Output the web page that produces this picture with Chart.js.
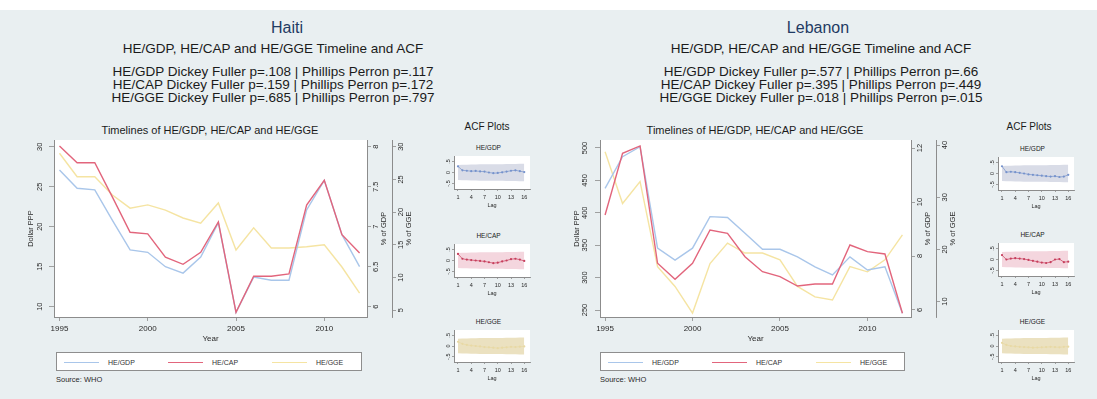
<!DOCTYPE html>
<html>
<head>
<meta charset="utf-8">
<title>Health expenditure timelines and ACF: Haiti and Lebanon</title>
<script src="https://cdn.jsdelivr.net/npm/chart.js@4.4.1/dist/chart.umd.min.js"></script>
<style>
  html, body { margin:0; padding:0; width:1097px; height:399px; overflow:hidden; background:#ffffff;
    font-family:"Liberation Sans", Arial, sans-serif; }
  #panel { position:absolute; left:0; top:10px; width:1097px; height:389px; background:#e9eff1; }
  .txt { position:absolute; white-space:nowrap; transform:translate(-50%,-50%); color:#1b1b1b; line-height:1; }
  .ltxt { position:absolute; white-space:nowrap; transform:translateY(-50%); color:#2a2a2a; line-height:1; }
  canvas { position:absolute; }
  .legend { position:absolute; background:#ffffff; border:1px solid #8e8e8e; box-sizing:border-box; }
  .key { position:absolute; height:0; top:50%; }
  .klab { position:absolute; top:50%; transform:translateY(-50%); font-size:7px; color:#333; white-space:nowrap; line-height:1; }
</style>
</head>
<body>
<div id="panel"></div>
<script>
// ---- data -------------------------------------------------------------
const years = [1995, 1996, 1997, 1998, 1999, 2000, 2001, 2002, 2003, 2004,
               2005, 2006, 2007, 2008, 2009, 2010, 2011, 2012];

// Haiti: HE/GDP in % of GDP, HE/CAP in Dollar PPP, HE/GGE in % of GGE
const haitiHeGdp = [7.71, 7.48, 7.46, 7.08, 6.71, 6.68, 6.50, 6.42, 6.62, 7.05,
                    5.93, 6.37, 6.33, 6.33, 7.21, 7.58, 6.90, 6.50];
const haitiHeCap = [30.1, 28.0, 28.0, 23.7, 19.3, 19.1, 16.2, 15.3, 16.8, 20.6,
                    9.3, 13.8, 13.8, 14.1, 22.7, 25.8, 19.0, 16.7];
const haitiHeGge = [29.0, 25.4, 25.4, 22.6, 20.6, 21.1, 20.3, 19.1, 18.3, 21.4,
                    14.2, 17.6, 14.5, 14.5, 14.7, 15.0, 11.6, 7.6];

// Lebanon
const lebanonHeGdp = [10.51, 11.68, 12.05, 8.29, 7.85, 8.29, 9.46, 9.43, 8.84, 8.25,
                      8.25, 7.97, 7.60, 7.30, 7.97, 7.48, 7.60, 5.88];
const lebanonHeCap = [396.6, 491.8, 503.1, 322.1, 297.4, 322.1, 373.5, 368.4, 332.3, 309.1,
                      301.4, 287.0, 290.1, 290.1, 350.3, 340.0, 336.4, 244.9];
const lebanonHeGge = [38.7, 28.8, 33.0, 16.7, 12.9, 7.8, 17.3, 21.2, 19.3, 19.3,
                      18.0, 12.9, 10.9, 10.3, 16.7, 15.7, 18.0, 22.8];

// Autocorrelations by lag
const lags = [1, 2, 3, 4, 5, 6, 7, 8, 9, 10, 11, 12, 13, 14, 15, 16];
const haitiAcfGdp   = [0.28, 0.10, 0.08, 0.06, 0.07, 0.05, 0.04, 0.00, -0.03, -0.02, 0.01, 0.04, 0.08, 0.10, 0.06, 0.02];
const haitiAcfCap   = [0.30, 0.08, 0.04, 0.02, 0.00, -0.02, -0.04, -0.08, -0.12, -0.10, -0.04, 0.00, 0.06, 0.08, 0.04, -0.02];
const haitiAcfGge   = [0.20, 0.10, 0.05, 0.02, 0.00, -0.02, -0.05, -0.06, -0.08, -0.10, -0.08, -0.06, -0.04, -0.05, -0.03, -0.02];
const lebanonAcfGdp = [0.33, 0.06, 0.08, 0.06, 0.03, 0.00, -0.04, -0.06, -0.08, -0.10, -0.12, -0.14, -0.12, -0.16, -0.14, -0.06];
const lebanonAcfCap = [0.20, 0.00, 0.04, 0.06, 0.04, 0.02, -0.02, -0.06, -0.10, -0.14, -0.16, -0.12, 0.00, 0.02, -0.12, -0.10];
const lebanonAcfGge = [0.15, 0.05, 0.00, -0.02, -0.04, -0.05, -0.06, -0.08, -0.07, -0.06, -0.05, -0.04, -0.05, -0.06, -0.04, -0.03];
// 95% confidence half-width by lag
const acfBand = [0.34, 0.35, 0.35, 0.36, 0.36, 0.37, 0.37, 0.37, 0.38, 0.38, 0.38, 0.39, 0.39, 0.39, 0.40, 0.40];

// Tick values
const yearTicks = [1995, 2000, 2005, 2010];
const lagTicks = [1, 4, 7, 10, 13, 16];
const acfTicks = [-0.5, 0, 0.5];
const acfTickLabels = ["-.5", "0", ".5"];
const haitiCapTicks = [10, 15, 20, 25, 30];
const haitiGdpTicks = [6, 6.5, 7, 7.5, 8];
const haitiGgeTicks = [5, 10, 15, 20, 25, 30];
const lebanonCapTicks = [250, 300, 350, 400, 450, 500];
const lebanonGdpTicks = [6, 8, 10, 12];
const lebanonGgeTicks = [10, 20, 30, 40];

// Unit-root tests: [series, Dickey Fuller p, Phillips Perron p]
const haitiTests = [["HE/GDP", ".108", ".117"], ["HE/CAP", ".159", ".172"], ["HE/GGE", ".685", ".797"]];
const lebanonTests = [["HE/GDP", ".577", ".66"], ["HE/CAP", ".395", ".449"], ["HE/GGE", ".018", ".015"]];

const seriesNames = ["HE/GDP", "HE/CAP", "HE/GGE"];

// ---- styling ------------------------------------------------------------
const FONT = '"Liberation Sans", Arial, sans-serif';
const AXIS_GRAY = '#8c8c8c';
const TEXT = '#2a2a2a';
const seriesColors = ['#a9c6ea', '#e2657c', '#f5e4a2'];
const acfStyles = [
  { band: '#d9dce7', mark: '#7592cc' },
  { band: '#f4d6de', mark: '#c73e5c' },
  { band: '#ebe1c0', mark: '#e8d9a4' }
];

// ---- helpers ------------------------------------------------------------
const axisText = {};

const plotBg = {
  id: 'plotBg',
  beforeDraw(chart) {
    const { ctx, chartArea: a } = chart;
    ctx.save();
    ctx.fillStyle = '#ffffff';
    ctx.fillRect(a.left, a.top, a.right - a.left, a.bottom - a.top);
    ctx.restore();
  }
};

// vertical tick labels and axis titles, reading bottom to top
const rotLabels = {
  id: 'rotLabels',
  afterDraw(chart) {
    const cfg = axisText[chart.canvas.id];
    if (!cfg) return;
    const ctx = chart.ctx;
    ctx.save();
    ctx.fillStyle = TEXT;
    ctx.textAlign = 'center';
    ctx.textBaseline = 'middle';
    for (const id in cfg) {
      const c = cfg[id];
      const sc = chart.scales[id];
      const base = sc.position === 'left' ? sc.right : sc.left;
      ctx.font = c.size + 'px ' + FONT;
      c.ticks.forEach((v, i) => {
        ctx.save();
        ctx.translate(base + c.off, sc.getPixelForValue(v));
        ctx.rotate(-Math.PI / 2);
        ctx.fillText(c.labels[i], 0, 0);
        ctx.restore();
      });
      if (c.title) {
        ctx.save();
        ctx.translate(base + c.toff, (sc.top + sc.bottom) / 2);
        ctx.rotate(-Math.PI / 2);
        ctx.fillText(c.title, 0, 0);
        ctx.restore();
      }
    }
    ctx.restore();
  }
};

function makeCanvas(id, left, top, width, height) {
  const cv = document.createElement('canvas');
  cv.id = id;
  cv.width = width;
  cv.height = height;
  cv.style.left = left + 'px';
  cv.style.top = top + 'px';
  cv.style.width = width + 'px';
  cv.style.height = height + 'px';
  document.body.appendChild(cv);
  return cv;
}

function addText(text, x, y, size, opts = {}) {
  const d = document.createElement('div');
  d.className = opts.left ? 'ltxt' : 'txt';
  d.textContent = text;
  d.style.left = x + 'px';
  d.style.top = y + 'px';
  d.style.fontSize = size + 'px';
  if (opts.color) d.style.color = opts.color;
  if (opts.weight) d.style.fontWeight = opts.weight;
  document.body.appendChild(d);
}

function yAxis(pos, min, max, ticks, width, tickLen) {
  return {
    type: 'linear', position: pos, min: min, max: max,
    afterBuildTicks: s => { s.ticks = ticks.map(v => ({ value: v })); },
    afterFit: s => { s.width = width; },
    ticks: { display: false },
    grid: { drawOnChartArea: false, drawTicks: true, tickLength: tickLen, color: AXIS_GRAY, lineWidth: 0.8 },
    border: { display: true, color: AXIS_GRAY, width: 1 }
  };
}

function xAxis(min, max, ticks, height, fontSize, tickLen, labelPad, title, titlePad) {
  return {
    type: 'linear', position: 'bottom', min: min, max: max,
    afterBuildTicks: s => { s.ticks = ticks.map(v => ({ value: v })); },
    afterFit: s => { s.height = height; },
    ticks: { autoSkip: false, maxRotation: 0, minRotation: 0, padding: labelPad, color: TEXT,
             font: { size: fontSize, family: FONT }, callback: v => String(v) },
    grid: { drawOnChartArea: false, drawTicks: true, tickLength: tickLen, color: AXIS_GRAY, lineWidth: 0.8 },
    border: { display: true, color: AXIS_GRAY, width: 1 },
    title: { display: true, text: title, color: TEXT, font: { size: fontSize, family: FONT },
             padding: { top: 0, bottom: titlePad } }
  };
}

const baseOptions = {
  responsive: false, animation: false, devicePixelRatio: 1,
  events: [],
  plugins: { legend: { display: false }, tooltip: { enabled: false }, title: { display: false } }
};

// ---- timeline chart -------------------------------------------------------
function timeline(id, g, d) {
  const cv = makeCanvas(id, g.left, g.top, g.width, g.height);
  axisText[id] = {
    y:  { ticks: d.capTicks, labels: d.capTicks.map(String), off: g.capOff, size: 7.5, title: 'Dollar PPP', toff: g.capTitleOff },
    y1: { ticks: d.gdpTicks, labels: d.gdpTicks.map(String), off: 9, size: 7.5, title: '% of GDP', toff: 17 },
    y2: { ticks: d.ggeTicks, labels: d.ggeTicks.map(String), off: 9, size: 7.5, title: '% of GGE', toff: 17 }
  };
  const pts = arr => years.map((yr, i) => ({ x: yr, y: arr[i] }));
  new Chart(cv, {
    type: 'line',
    data: {
      datasets: [
        { label: seriesNames[0], data: pts(d.gdp), yAxisID: 'y1', borderColor: seriesColors[0], order: 2 },
        { label: seriesNames[1], data: pts(d.cap), yAxisID: 'y',  borderColor: seriesColors[1], order: 1 },
        { label: seriesNames[2], data: pts(d.gge), yAxisID: 'y2', borderColor: seriesColors[2], order: 3 }
      ]
    },
    options: Object.assign({}, baseOptions, {
      layout: { padding: { top: g.padTop, right: 0, left: 0, bottom: 0 } },
      elements: { point: { radius: 0 }, line: { borderWidth: 1.4, tension: 0 } },
      scales: {
        x: xAxis(g.xMin, g.xMax, yearTicks, 31, 8, 4, 3, 'Year', 4),
        y: yAxis('left', d.capRange[0], d.capRange[1], d.capTicks, g.leftW, 5),
        y1: yAxis('right', d.gdpRange[0], d.gdpRange[1], d.gdpTicks, 25, 4),
        y2: yAxis('right', d.ggeRange[0], d.ggeRange[1], d.ggeTicks, 25, 4)
      }
    }),
    plugins: [plotBg, rotLabels]
  });
}

// ---- ACF mini chart -------------------------------------------------------
function acfChart(id, g, vals, style, name) {
  const cv = makeCanvas(id, g.L - 18, g.T - 2, 18 + g.W + 3, 2 + g.H + 23);
  axisText[id] = { y: { ticks: acfTicks, labels: acfTickLabels, off: -6, size: 5.5 } };
  addText(name, g.L + g.W / 2 - 4, g.T - 6, 6.5);
  new Chart(cv, {
    type: 'line',
    data: {
      datasets: [
        { data: lags.map((l, i) => ({ x: l, y: acfBand[i] })), borderWidth: 0, pointRadius: 0,
          backgroundColor: style.band, fill: false, order: 3 },
        { data: lags.map((l, i) => ({ x: l, y: -acfBand[i] })), borderWidth: 0, pointRadius: 0,
          backgroundColor: style.band, fill: '-1', order: 2 },
        { data: lags.map((l, i) => ({ x: l, y: vals[i] })), borderColor: style.mark, borderWidth: 0.7,
          pointRadius: 1.1, pointBorderWidth: 0, pointBackgroundColor: style.mark, fill: false, order: 1 }
      ]
    },
    options: Object.assign({}, baseOptions, {
      layout: { padding: { top: 2, right: 3, left: 0, bottom: 0 } },
      elements: { line: { tension: 0 } },
      scales: {
        x: xAxis(0.1, 17.3, lagTicks, 23, 5.5, 2, 3, 'Lag', 3),
        y: yAxis('left', -0.75, 0.75, acfTicks, 18, 2)
      }
    }),
    plugins: [plotBg, rotLabels]
  });
}

// ---- legend ----------------------------------------------------------------
function legend(x, y, w, h) {
  const box = document.createElement('div');
  box.className = 'legend';
  Object.assign(box.style, { left: x + 'px', top: y + 'px', width: w + 'px', height: h + 'px' });
  seriesNames.forEach((name, i) => {
    const k = document.createElement('div');
    k.className = 'key';
    Object.assign(k.style, { left: (7 + i * 104) + 'px', width: '35px', borderTop: '1.4px solid ' + seriesColors[i] });
    const t = document.createElement('div');
    t.className = 'klab';
    t.textContent = name;
    t.style.left = (51 + i * 104) + 'px';
    box.appendChild(k);
    box.appendChild(t);
  });
  document.body.appendChild(box);
}

// ---- header text -------------------------------------------------------------
function header(country, cx, cxTitle, tests) {
  addText(country, cxTitle, 28, 16, { color: '#1f3b63' });
  addText('HE/GDP, HE/CAP and HE/GGE Timeline and ACF', cx, 49, 13.5);
  tests.forEach((t, i) => {
    addText(t[0] + ' Dickey Fuller p=' + t[1] + ' | Phillips Perron p=' + t[2], cx, 71.5 + i * 13.3, 13.5);
  });
}

// ---- Haiti -------------------------------------------------------------------
header('Haiti', 273, 287, haitiTests);
addText('Timelines of HE/GDP, HE/CAP and HE/GGE', 210, 130, 11);
timeline('haitiTimeline',
  { left: 20, top: 116, width: 397, height: 232, padTop: 24, leftW: 34, capOff: -14, capTitleOff: -23,
    xMin: 1994.69, xMax: 2012.42 },
  { gdp: haitiHeGdp, cap: haitiHeCap, gge: haitiHeGge,
    capTicks: haitiCapTicks, gdpTicks: haitiGdpTicks, ggeTicks: haitiGgeTicks,
    capRange: [8.71, 30.84], gdpRange: [5.871, 8.084], ggeRange: [3.96, 31.02] });
legend(56, 352, 306, 19);
addText('Source: WHO', 56, 380, 7.5, { left: true });
addText('ACF Plots', 487, 127, 10);
acfChart('haitiAcfGdp', { L: 454, T: 154, W: 77, H: 35 }, haitiAcfGdp, acfStyles[0], 'HE/GDP');
acfChart('haitiAcfCap', { L: 454, T: 242, W: 77, H: 35 }, haitiAcfCap, acfStyles[1], 'HE/CAP');
acfChart('haitiAcfGge', { L: 454, T: 328, W: 77, H: 34 }, haitiAcfGge, acfStyles[2], 'HE/GGE');

// ---- Lebanon -----------------------------------------------------------------
header('Lebanon', 821, 818, lebanonTests);
addText('Timelines of HE/GDP, HE/CAP and HE/GGE', 755, 130, 11);
timeline('lebanonTimeline',
  { left: 570, top: 116, width: 391, height: 232, padTop: 24, leftW: 30, capOff: -15, capTitleOff: -23,
    xMin: 1994.71, xMax: 2012.49 },
  { gdp: lebanonHeGdp, cap: lebanonHeCap, gge: lebanonHeGge,
    capTicks: lebanonCapTicks, gdpTicks: lebanonGdpTicks, ggeTicks: lebanonGgeTicks,
    capRange: [239.2, 512.3], gdpRange: [5.74, 12.30], ggeRange: [7.05, 40.96] });
legend(600, 352, 305, 19);
addText('Source: WHO', 600, 380, 7.5, { left: true });
addText('ACF Plots', 1029, 127, 10);
acfChart('lebanonAcfGdp', { L: 998, T: 155, W: 77, H: 35 }, lebanonAcfGdp, acfStyles[0], 'HE/GDP');
acfChart('lebanonAcfCap', { L: 998, T: 241, W: 77, H: 35 }, lebanonAcfCap, acfStyles[1], 'HE/CAP');
acfChart('lebanonAcfGge', { L: 998, T: 328, W: 77, H: 34 }, lebanonAcfGge, acfStyles[2], 'HE/GGE');
</script>
</body>
</html>
